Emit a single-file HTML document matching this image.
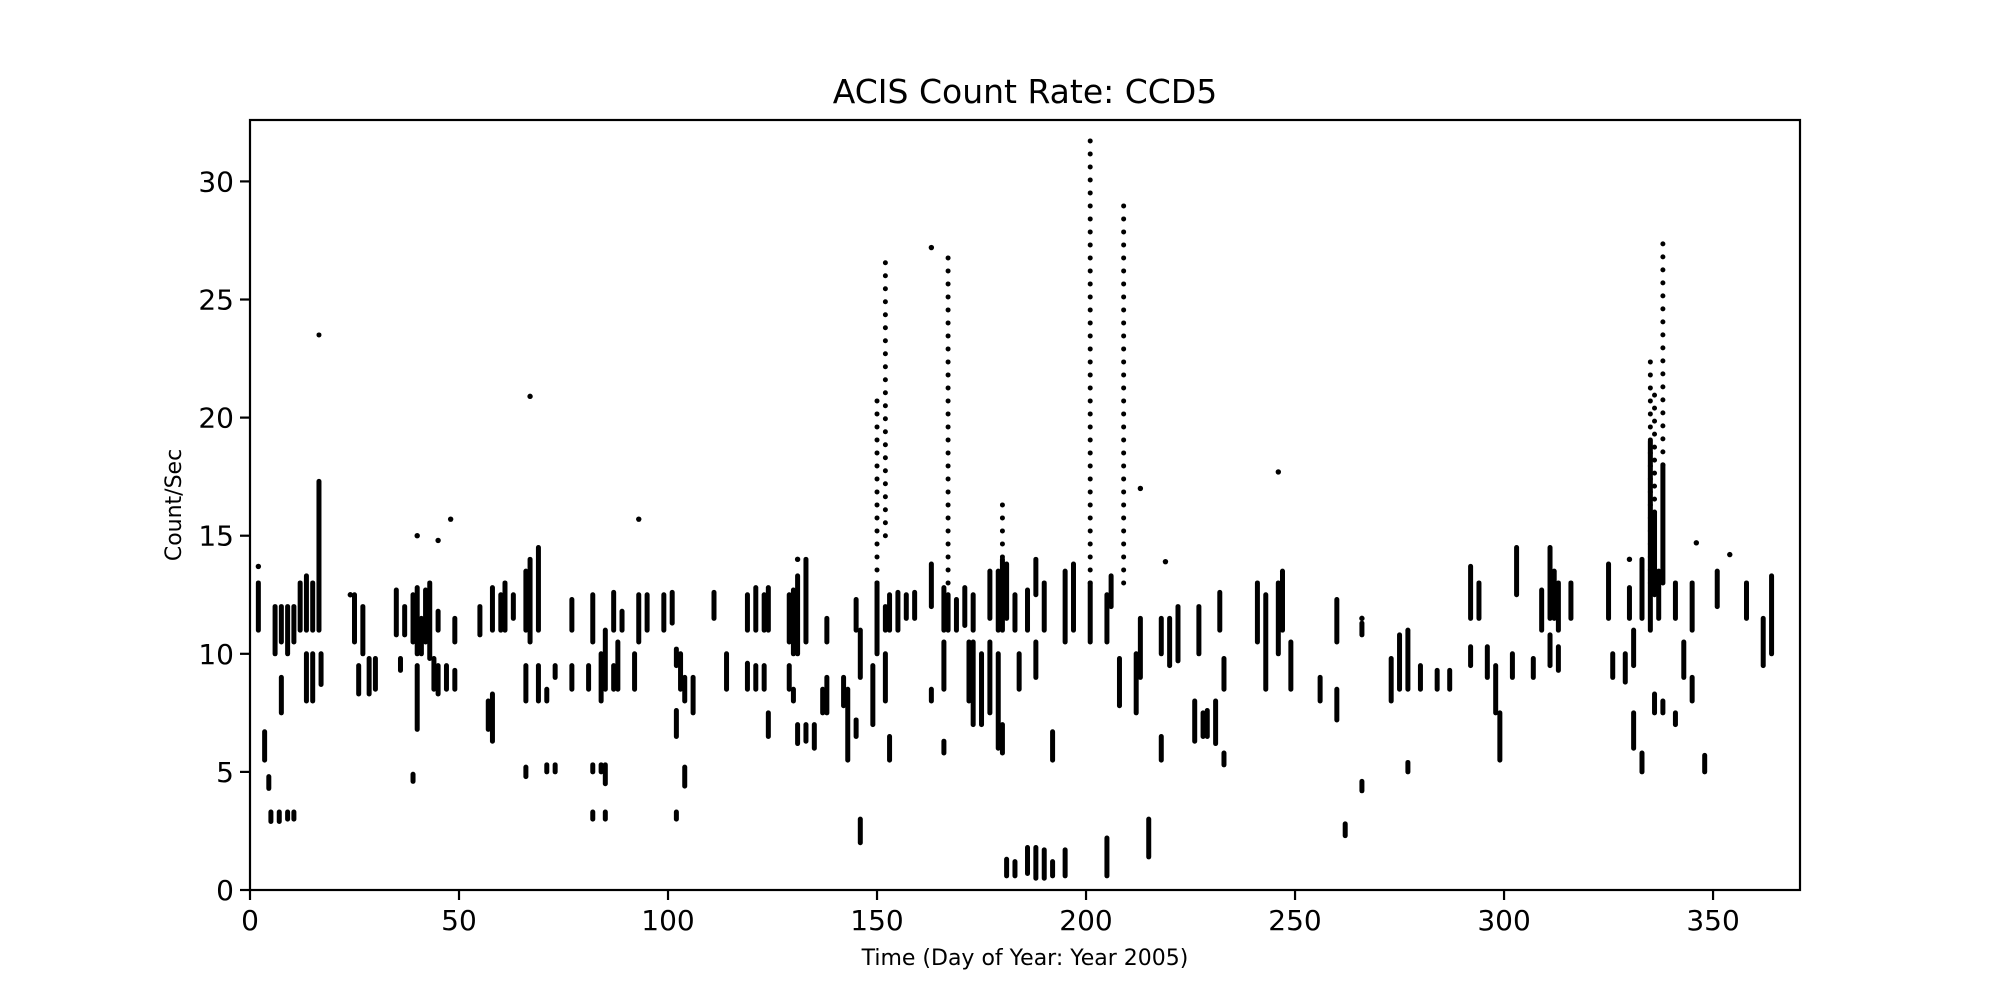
<!DOCTYPE html>
<html><head><meta charset="utf-8"><style>
html,body{margin:0;padding:0;background:#fff;}
svg{display:block;font-family:"DejaVu Sans","Liberation Sans",sans-serif;}
</style></head><body>
<svg id="chart" width="2000" height="1000" viewBox="0 0 2000 1000" xmlns="http://www.w3.org/2000/svg">
<rect x="0" y="0" width="2000" height="1000" fill="#fff"/>
<text x="1025" y="103" font-size="33" text-anchor="middle">ACIS Count Rate: CCD5</text>
<g id="marks"></g>
<g id="axes"></g>
<text x="1025" y="965" font-size="22" text-anchor="middle">Time (Day of Year: Year 2005)</text>
<text x="0" y="0" font-size="22" text-anchor="middle" transform="translate(181,505) rotate(-90)">Count/Sec</text>
</svg>
<script>
// dense clusters: [day, low, high]
const denseDays = [2,3.5,4.5,5,7,9,10.5,6,7.5,7.5,9,10.5,12,13.5,13.5,15,15,16.5,17,25,26,27,28.5,30,35,36,37,39,39,40,40,41,42,43,44,45,45,47,49,49,55,57,58,58,60,61,63,66,66,66,67,69,69,71,71,73,73,77,77,81,82,82,82,84,84,85,85,85,87,87,88,89,92,93,95,99,101,102,102,102,103,104,104,106,111,114,119,119,121,121,123,123,124,124,129,129,130,130,131,131,133,133,135,137,138,138,142,143,145,145,146,146,149,150,152,152,153,153,155,157,159,163,163,166,166,166,167,169,171,172,173,173,175,177,177,179,179,180,180,181,181,183,183,184,186,186,188,188,188,190,190,192,192,195,195,197,201,205,205,206,208,212,213,215,218,218,220,222,226,227,228,229,231,232,233,233,241,243,246,247,249,256,260,260,262,266,266,273,275,277,277,280,284,287,292,292,294,296,298,299,302,303,307,309,311,311,312,313,313,316,325,326,329,330,331,331,333,333,335,336,336,337,338,338,341,341,343,345,345,348,351,358,362,364];
const denseLow  = [11,5.5,4.3,2.9,2.9,3,3,10,7.5,10.5,10,10.5,11,8,11,8,11,11,8.7,10.5,8.3,10,8.3,8.5,10.8,9.3,10.8,10.5,4.6,6.8,10,10,10.5,9.8,8.5,8.3,11,8.5,8.5,10.5,10.8,6.8,6.3,11,11,11,11.5,8,4.8,11,10.5,8,11,8,5,5,9,11,8.5,8.5,10.5,5,3,8,5,8.5,3,4.5,8.5,11,8.5,11,8.5,10.5,11,11,11.3,6.5,9.5,3,8.5,4.4,8,7.5,11.5,8.5,8.5,11,8.5,11,8.5,11,6.5,11,8.5,10.5,10,8,6.2,10,10.5,6.3,6,7.5,7.5,10.5,7.8,5.5,6.5,11,2,9,7,10,8,11,5.5,11,11,11.5,11.5,12,8,5.8,8.5,11,11,11,11.2,8,7,11,7,7.5,11.5,6,11,5.8,11,0.6,11.5,0.6,11,8.5,0.7,11,9,0.5,12.5,0.5,11,5.5,0.6,0.6,10.5,11,10.5,0.6,10.5,12,7.8,7.5,9,1.4,5.5,10,9.5,9.7,6.3,10,6.5,6.5,6.2,11,5.3,8.5,10.5,8.5,10,11,8.5,8,7.2,10.5,2.3,4.2,10.8,8,8.5,8.5,5,8.5,8.5,8.5,9.5,11.5,11.5,9,7.5,5.5,9,12.5,9,11,9.5,11.5,11.5,9.3,11,11.5,11.5,9,8.8,11.5,6,9.5,5,11.5,11,7.5,12.5,11.5,7.5,13,7,11.5,9,8,11,5,12,11.5,9.5,10];
const denseHigh = [13,6.7,4.8,3.3,3.3,3.3,3.3,12,9,12,12,12,13,10,13.3,10,13,17.3,10,12.5,9.5,12,9.8,9.8,12.7,9.8,12,12.5,4.9,9.5,12.8,11.5,12.7,13,9.8,9.5,11.8,9.5,9.3,11.5,12,8,8.3,12.8,12.5,13,12.5,9.5,5.2,13.5,14,9.5,14.5,8.5,5.3,5.3,9.5,12.3,9.5,9.5,12.5,5.3,3.3,10,5.3,11,3.3,5.3,9.5,12.6,10.5,11.8,10,12.5,12.5,12.5,12.6,7.6,10.2,3.3,10,5.2,9,9,12.6,10,9.6,12.5,9.5,12.8,9.5,12.5,7.5,12.8,9.5,12.5,12.7,8.5,7,13.3,14,7,7,8.5,9,11.5,9,8.5,7.2,12.3,3,11,9.5,13,10,12,6.5,12.5,12.6,12.5,12.6,13.8,8.5,6.3,10.5,12.8,12.5,12.3,12.8,10.5,10.5,12.5,10,10.5,13.5,10,13.5,7,14,1.3,13.8,1.2,12.5,10,1.8,12.7,10.5,1.8,14,1.7,13,6.7,1.2,1.7,13.5,13.8,13,2.2,12.5,13.3,9.8,10,11.5,3,6.5,11.5,11.5,12,8,12,7.5,7.6,8,12.6,5.8,9.8,13,12.5,13,13.5,10.5,9,8.5,12.3,2.8,4.6,11.3,9.8,10.8,11,5.4,9.5,9.3,9.3,10.3,13.7,13,10.3,9.5,7.5,10,14.5,9.8,12.7,10.8,14.5,13.5,10.3,13,13,13.8,10,10,12.8,7.5,11,5.8,14,19,8.3,16,13.5,8,18,7.5,13,10.5,9,13,5.7,13.5,13,11.5,13.3];
// sparse spikes: [day, low, high]
const sparseDays = [16.5,150,152,167,201,209,335,336,338,180];
const sparseLow  = [23.5,13,15,13,13,13,13,16,18,13];
const sparseHigh = [23.9,20.8,26.8,27.2,31.8,29.3,22.7,21,27.6,16.4];
// isolated points
const singleDays = [2,48,67,93,163,213,219,246,330,346,354,131,40,45,24,266];
const singleVals = [13.7,15.7,20.9,15.7,27.2,17,13.9,17.7,14,14.7,14.2,14,15,14.8,12.5,11.5];
const xTicks = [0,50,100,150,200,250,300,350];
const yTicks = [0,5,10,15,20,25,30];

const X0=250,X1=1800,Y0=890,Y1=120,XMAX=370.8,YMAX=32.6;
const xs=d=>X0+(d/XMAX)*(X1-X0);
const ys=v=>Y0-(v/YMAX)*(Y0-Y1);
const NS='http://www.w3.org/2000/svg';
const marks=document.getElementById('marks');
const axes=document.getElementById('axes');
function mk(tag,attrs,parent){const e=document.createElementNS(NS,tag);for(const k in attrs)e.setAttribute(k,attrs[k]);parent.appendChild(e);return e;}

denseDays.forEach((d,i)=>{
  const l=mk('line',{x1:xs(d),x2:xs(d),y1:ys(denseLow[i]),y2:ys(denseHigh[i]),stroke:'#000','stroke-width':5,'stroke-linecap':'round'},marks);
  
  
});
sparseDays.forEach((d,i)=>{
  const l=mk('line',{x1:xs(d),x2:xs(d),y1:ys(sparseLow[i]),y2:ys(sparseHigh[i]),stroke:'#000','stroke-width':5,'stroke-linecap':'round','stroke-dasharray':'0 13'},marks);
  
  
});
singleDays.forEach((d,i)=>{
  const c=mk('circle',{cx:xs(d),cy:ys(singleVals[i]),r:2.7,fill:'#000'},marks);
  
  
});

const frame=mk('rect',{x:X0,y:Y1,width:X1-X0,height:Y0-Y1,fill:'none',stroke:'#000','stroke-width':2.2},axes);


xTicks.forEach(t=>{
  const x=xs(t);
  const tk=mk('line',{x1:x,x2:x,y1:Y0,y2:Y0+10,stroke:'#000','stroke-width':2.2},axes);
  
  
  const tx=mk('text',{x:x,y:Y0+40,'font-size':28,'text-anchor':'middle'},axes);
  tx.textContent=t;
  
  
});
yTicks.forEach(t=>{
  const y=ys(t);
  const tk=mk('line',{x1:X0-10,x2:X0,y1:y,y2:y,stroke:'#000','stroke-width':2.2},axes);
  
  
  const tx=mk('text',{x:X0-16,y:y+10,'font-size':28,'text-anchor':'end'},axes);
  tx.textContent=t;
  
  
});
</script>
</body></html>
